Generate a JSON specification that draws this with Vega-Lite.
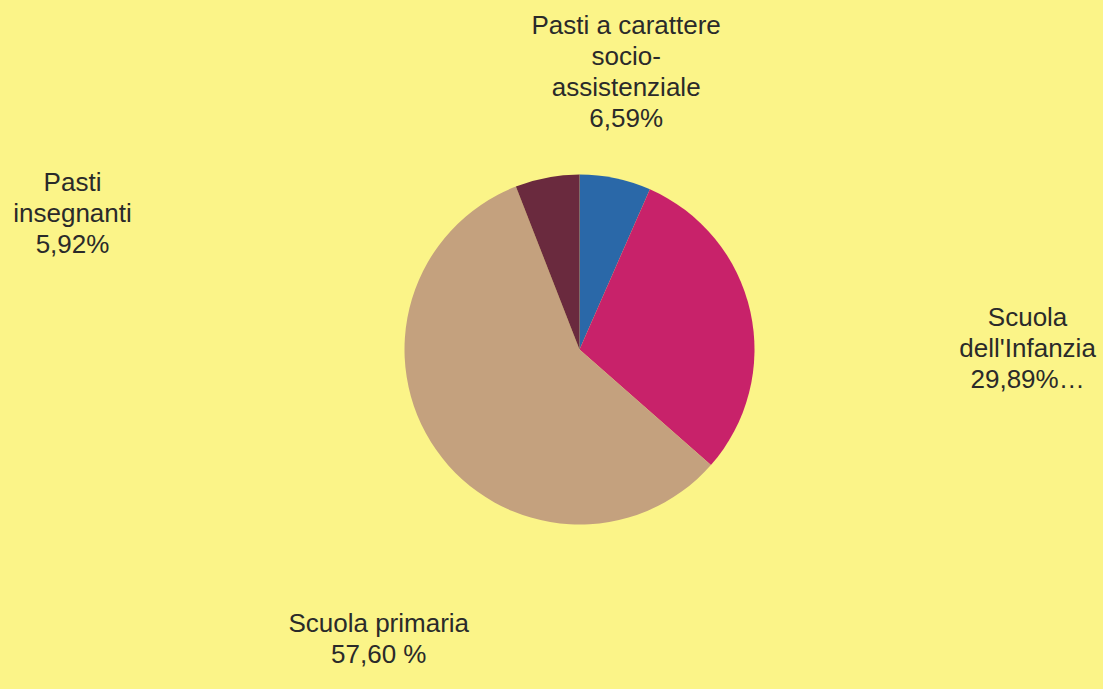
{
  "$schema": "https://vega.github.io/schema/vega-lite/v6.json",
  "autosize": "none",
  "width": 1047,
  "height": 679,
  "padding": {"left": 56, "top": 10, "right": 0, "bottom": 0},
  "background": "#fbf488",
  "config": {"view": {"stroke": null}},
  "data": {
    "values": [
      {"ord": 1, "cat": "Pasti a carattere socio-assistenziale", "pct": 6.59, "label": "Pasti a carattere\nsocio-\nassistenziale\n6,59%"},
      {"ord": 2, "cat": "Scuola dell'Infanzia", "pct": 29.89, "label": "Scuola\ndell'Infanzia\n29,89%…"},
      {"ord": 3, "cat": "Scuola primaria", "pct": 57.60, "label": "Scuola primaria\n57,60 %"},
      {"ord": 4, "cat": "Pasti insegnanti", "pct": 5.92, "label": "Pasti\ninsegnanti\n5,92%"}
    ]
  },
  "encoding": {
    "theta": {"field": "pct", "type": "quantitative", "stack": true},
    "order": {"field": "ord", "type": "quantitative", "sort": "ascending"}
  },
  "layer": [
    {
      "mark": {"type": "arc", "radius": 175},
      "encoding": {
        "color": {
          "field": "cat",
          "type": "nominal",
          "legend": null,
          "scale": {
            "domain": ["Pasti a carattere socio-assistenziale", "Scuola dell'Infanzia", "Scuola primaria", "Pasti insegnanti"],
            "range": ["#2a68a8", "#c8226a", "#c4a17e", "#6a2a3e"]
          }
        }
      }
    },
    {
      "mark": {"type": "text", "radius": 300, "dx": -15, "dy": -30, "lineBreak": "\n", "font": "Liberation Sans", "fontSize": 26, "lineHeight": 31, "color": "#2a2a2a", "align": "center", "baseline": "middle"},
      "encoding": {
        "text": {"condition": {"test": "datum.ord === 1", "field": "label"}, "value": ""}
      }
    },
    {
      "mark": {"type": "text", "radius": 420, "dx": 38, "dy": 59, "lineBreak": "\n", "font": "Liberation Sans", "fontSize": 26, "lineHeight": 31, "color": "#2a2a2a", "align": "center", "baseline": "middle"},
      "encoding": {
        "text": {"condition": {"test": "datum.ord === 2", "field": "label"}, "value": ""}
      }
    },
    {
      "mark": {"type": "text", "radius": 300, "dx": 45, "dy": 102, "lineBreak": "\n", "font": "Liberation Sans", "fontSize": 26, "lineHeight": 31, "color": "#2a2a2a", "align": "center", "baseline": "middle"},
      "encoding": {
        "text": {"condition": {"test": "datum.ord === 3", "field": "label"}, "value": ""}
      }
    },
    {
      "mark": {"type": "text", "radius": 200, "dx": -470, "dy": 30, "lineBreak": "\n", "font": "Liberation Sans", "fontSize": 26, "lineHeight": 31, "color": "#2a2a2a", "align": "center", "baseline": "middle"},
      "encoding": {
        "text": {"condition": {"test": "datum.ord === 4", "field": "label"}, "value": ""}
      }
    }
  ]
}
